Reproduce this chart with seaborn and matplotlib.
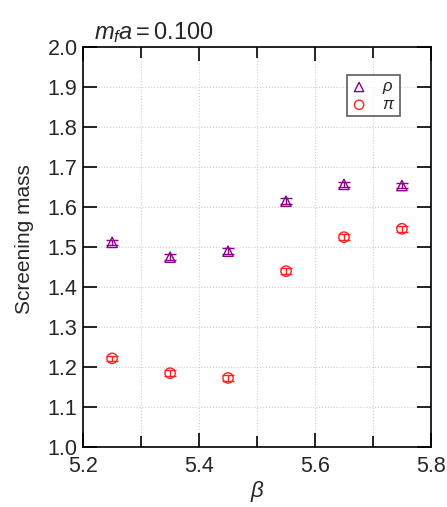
import numpy as np
import pandas as pd
import matplotlib
matplotlib.use("Agg")
import matplotlib.pyplot as plt
import seaborn as sns
from matplotlib.ticker import MultipleLocator

beta = [5.25, 5.35, 5.45, 5.55, 5.65, 5.75]
rho_mass = [1.512, 1.475, 1.490, 1.615, 1.657, 1.654]
rho_err = [0.007, 0.007, 0.007, 0.007, 0.006, 0.006]
pi_mass = [1.222, 1.185, 1.173, 1.440, 1.525, 1.546]
pi_err = [0.007, 0.007, 0.007, 0.008, 0.007, 0.007]

df = pd.DataFrame({
    "beta": beta * 2,
    "mass": rho_mass + pi_mass,
    "err": rho_err + pi_err,
    "state": ["rho"] * 6 + ["pi"] * 6,
})

sns.set_style("ticks")
plt.rcParams["font.family"] = ["Liberation Sans", "DejaVu Sans"]
plt.rcParams["mathtext.fontset"] = "custom"
plt.rcParams["mathtext.it"] = "Liberation Sans:italic"
plt.rcParams["mathtext.rm"] = "Liberation Sans"

fig = plt.figure(figsize=(4.47, 5.07), dpi=100)
ax = fig.add_axes([0.186, 0.118, 0.778, 0.789])

colors = {"rho": "#8b008b", "pi": "#ff2020"}
markers = {"rho": "^", "pi": "o"}
labels = {"rho": r"$\rho$", "pi": r"$\pi$"}

for st in ["rho", "pi"]:
    d = df[df.state == st]
    ax.errorbar(d.beta, d.mass, yerr=d.err, fmt="none", ecolor=colors[st],
                elinewidth=1, capsize=4, capthick=1, zorder=3)
    sns.scatterplot(data=d, x="beta", y="mass", ax=ax, marker=markers[st],
                    s=55, facecolor="none", edgecolor=colors[st], linewidth=1,
                    label=labels[st], zorder=4)

ax.set_xlim(5.2, 5.8)
ax.set_ylim(1.0, 2.0)
ax.xaxis.set_major_locator(MultipleLocator(0.2))
ax.xaxis.set_minor_locator(MultipleLocator(0.1))
ax.yaxis.set_major_locator(MultipleLocator(0.1))
ax.set_xticklabels([], minor=True)
ax.grid(True, which="both", linestyle=":", color="#d0d0d0", linewidth=0.8)
ax.set_axisbelow(True)
ax.tick_params(which="both", direction="in", top=True, right=True,
               labelsize=15.5, width=1.2, color="black")
ax.tick_params(axis="y", pad=4)
ax.tick_params(axis="x", pad=6)
ax.tick_params(which="major", length=10)
ax.tick_params(which="minor", length=8)
for sp in ax.spines.values():
    sp.set_linewidth(1.2)
    sp.set_color("black")

ax.set_xlabel(r"$\beta$", fontsize=16, labelpad=2)
ax.set_ylabel("Screening mass", fontsize=15)
ax.yaxis.set_label_coords(-0.14, 0.52)
ax.set_title(r"$m_f a = 0.100$", fontsize=17, loc="left", x=0.03, pad=6)

leg = ax.legend(loc="upper right", bbox_to_anchor=(0.911, 0.93), frameon=True,
                fancybox=False, edgecolor="#333333", fontsize=12,
                handlelength=1.0, handletextpad=0.9, borderpad=0.25,
                labelspacing=0.05, borderaxespad=0, markerscale=0.9)
leg.get_frame().set_linewidth(1.2)

fig.savefig("out.png", dpi=100)
